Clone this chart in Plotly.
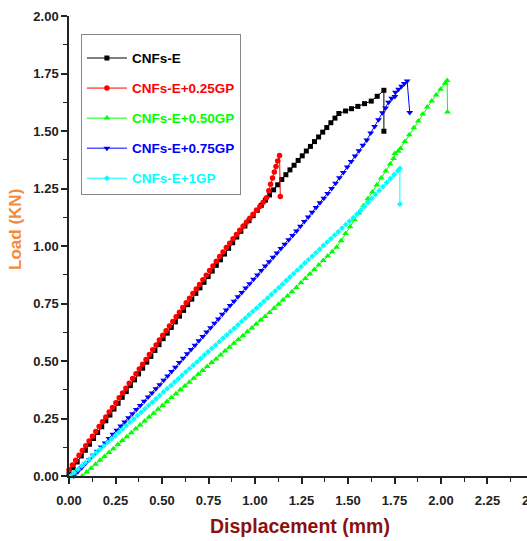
import plotly.graph_objects as go

# ---------------- data ----------------
series_names = ["CNFs-E", "CNFs-E+0.25GP", "CNFs-E+0.50GP", "CNFs-E+0.75GP", "CNFs-E+1GP"]

x_e = [0.000, 0.022, 0.044, 0.066, 0.088, 0.110, 0.132, 0.154, 0.176, 0.198, 0.220, 0.242, 0.264, 0.286,
       0.308, 0.330, 0.352, 0.374, 0.396, 0.418, 0.440, 0.462, 0.484, 0.506, 0.528, 0.550, 0.572, 0.594,
       0.616, 0.638, 0.660, 0.682, 0.704, 0.726, 0.748, 0.770, 0.792, 0.814, 0.836, 0.858, 0.880, 0.902,
       0.924, 0.946, 0.968, 0.990, 1.012, 1.034, 1.056, 1.078, 1.100, 1.122, 1.144, 1.166, 1.188, 1.210,
       1.232, 1.254, 1.276, 1.298, 1.320, 1.342, 1.364, 1.386, 1.408, 1.430, 1.451, 1.487, 1.519, 1.553,
       1.589, 1.625, 1.657, 1.693, 1.693]
y_e = [0.010, 0.036, 0.061, 0.087, 0.112, 0.138, 0.163, 0.189, 0.214, 0.240, 0.265, 0.291, 0.316, 0.342,
       0.367, 0.393, 0.418, 0.444, 0.469, 0.495, 0.520, 0.546, 0.571, 0.597, 0.621, 0.646, 0.670, 0.695,
       0.720, 0.745, 0.769, 0.794, 0.818, 0.842, 0.867, 0.891, 0.916, 0.940, 0.965, 0.990, 1.014, 1.039,
       1.064, 1.087, 1.110, 1.132, 1.155, 1.177, 1.199, 1.222, 1.244, 1.266, 1.289, 1.310, 1.331, 1.351,
       1.372, 1.392, 1.413, 1.433, 1.454, 1.474, 1.495, 1.515, 1.536, 1.556, 1.576, 1.587, 1.597, 1.607,
       1.619, 1.630, 1.651, 1.677, 1.499]

x_025 = [0.000, 0.018, 0.036, 0.054, 0.072, 0.090, 0.108, 0.126, 0.144, 0.162, 0.180, 0.198, 0.216, 0.234,
         0.252, 0.270, 0.288, 0.306, 0.324, 0.342, 0.360, 0.378, 0.396, 0.414, 0.432, 0.450, 0.468, 0.486,
         0.504, 0.522, 0.540, 0.558, 0.576, 0.594, 0.612, 0.630, 0.648, 0.666, 0.684, 0.702, 0.720, 0.738,
         0.756, 0.774, 0.792, 0.810, 0.828, 0.846, 0.864, 0.882, 0.900, 0.918, 0.936, 0.954, 0.972, 0.990,
         1.008, 1.026, 1.044, 1.062, 1.074, 1.084, 1.094, 1.104, 1.113, 1.122, 1.132, 1.136]
y_025 = [0.027, 0.048, 0.069, 0.090, 0.111, 0.131, 0.152, 0.173, 0.194, 0.215, 0.236, 0.257, 0.278, 0.298,
         0.319, 0.340, 0.361, 0.382, 0.403, 0.424, 0.445, 0.465, 0.486, 0.507, 0.528, 0.549, 0.570, 0.591,
         0.612, 0.632, 0.652, 0.672, 0.692, 0.712, 0.733, 0.753, 0.773, 0.793, 0.813, 0.833, 0.853, 0.873,
         0.893, 0.913, 0.934, 0.954, 0.974, 0.993, 1.012, 1.031, 1.050, 1.068, 1.086, 1.103, 1.121, 1.138,
         1.155, 1.172, 1.190, 1.210, 1.240, 1.268, 1.296, 1.322, 1.346, 1.370, 1.394, 1.215]

x_050 = [0.071, 0.095, 0.119, 0.143, 0.167, 0.191, 0.215, 0.239, 0.263, 0.287, 0.311, 0.335, 0.359, 0.383,
         0.407, 0.431, 0.455, 0.479, 0.503, 0.527, 0.551, 0.575, 0.599, 0.623, 0.647, 0.671, 0.695, 0.719,
         0.743, 0.767, 0.791, 0.815, 0.839, 0.863, 0.887, 0.911, 0.935, 0.959, 0.983, 1.007, 1.031, 1.055,
         1.079, 1.103, 1.127, 1.151, 1.175, 1.199, 1.223, 1.247, 1.271, 1.295, 1.319, 1.343, 1.367, 1.391,
         1.415, 1.439, 1.463, 1.487, 1.511, 1.535, 1.559, 1.583, 1.607, 1.631, 1.655, 1.679, 1.703, 1.727,
         1.745, 1.752, 1.770, 1.782, 1.806, 1.830, 1.854, 1.878, 1.902, 1.926, 1.950, 1.974, 1.998, 2.022,
         2.033, 2.035]
y_050 = [0.000, 0.017, 0.034, 0.051, 0.068, 0.085, 0.102, 0.119, 0.137, 0.154, 0.171, 0.188, 0.205, 0.222,
         0.239, 0.256, 0.273, 0.290, 0.307, 0.324, 0.341, 0.358, 0.375, 0.391, 0.408, 0.425, 0.442, 0.459,
         0.476, 0.493, 0.509, 0.526, 0.543, 0.560, 0.577, 0.593, 0.610, 0.627, 0.644, 0.661, 0.678, 0.694,
         0.711, 0.729, 0.747, 0.765, 0.783, 0.801, 0.820, 0.840, 0.859, 0.878, 0.898, 0.917, 0.937, 0.956,
         0.975, 0.995, 1.023, 1.054, 1.084, 1.114, 1.144, 1.175, 1.205, 1.235, 1.265, 1.296, 1.326, 1.356,
         1.380, 1.402, 1.412, 1.424, 1.454, 1.484, 1.514, 1.544, 1.574, 1.604, 1.630, 1.656, 1.682, 1.708,
         1.720, 1.583]

x_075 = [0.026, 0.047, 0.068, 0.089, 0.110, 0.131, 0.152, 0.173, 0.194, 0.215, 0.236, 0.257, 0.278, 0.299,
         0.320, 0.341, 0.362, 0.383, 0.404, 0.425, 0.446, 0.467, 0.488, 0.509, 0.530, 0.551, 0.572, 0.593,
         0.614, 0.635, 0.656, 0.677, 0.698, 0.719, 0.740, 0.761, 0.782, 0.803, 0.824, 0.845, 0.866, 0.887,
         0.908, 0.929, 0.950, 0.971, 0.992, 1.013, 1.034, 1.055, 1.076, 1.097, 1.118, 1.139, 1.160, 1.181,
         1.202, 1.223, 1.244, 1.265, 1.286, 1.307, 1.328, 1.349, 1.370, 1.391, 1.412, 1.433, 1.454, 1.475,
         1.496, 1.517, 1.538, 1.559, 1.580, 1.601, 1.622, 1.643, 1.664, 1.685, 1.702, 1.718, 1.735, 1.752,
         1.755, 1.772, 1.788, 1.803, 1.818, 1.832]
y_075 = [0.000, 0.018, 0.036, 0.054, 0.072, 0.090, 0.108, 0.126, 0.144, 0.163, 0.181, 0.199, 0.217, 0.235,
         0.253, 0.271, 0.289, 0.307, 0.325, 0.343, 0.361, 0.379, 0.397, 0.416, 0.435, 0.454, 0.473, 0.493,
         0.512, 0.531, 0.550, 0.569, 0.588, 0.607, 0.626, 0.645, 0.664, 0.683, 0.703, 0.722, 0.741, 0.760,
         0.779, 0.798, 0.817, 0.836, 0.855, 0.874, 0.894, 0.913, 0.932, 0.951, 0.970, 0.989, 1.008, 1.027,
         1.046, 1.065, 1.086, 1.106, 1.126, 1.147, 1.167, 1.188, 1.208, 1.228, 1.250, 1.273, 1.297, 1.320,
         1.344, 1.367, 1.391, 1.414, 1.438, 1.461, 1.491, 1.520, 1.549, 1.579, 1.600, 1.625, 1.642, 1.650,
         1.668, 1.682, 1.695, 1.706, 1.717, 1.580]

x_1 = [0.008, 0.028, 0.048, 0.068, 0.088, 0.108, 0.128, 0.148, 0.168, 0.188, 0.208, 0.228, 0.248, 0.268,
       0.288, 0.308, 0.328, 0.348, 0.368, 0.388, 0.408, 0.428, 0.448, 0.468, 0.488, 0.508, 0.528, 0.548,
       0.568, 0.588, 0.608, 0.628, 0.648, 0.668, 0.688, 0.708, 0.728, 0.748, 0.768, 0.788, 0.808, 0.828,
       0.848, 0.868, 0.888, 0.908, 0.928, 0.948, 0.968, 0.988, 1.008, 1.028, 1.048, 1.068, 1.088, 1.108,
       1.128, 1.148, 1.168, 1.188, 1.208, 1.228, 1.248, 1.268, 1.288, 1.308, 1.328, 1.348, 1.368, 1.388,
       1.408, 1.428, 1.448, 1.468, 1.488, 1.508, 1.528, 1.548, 1.568, 1.588, 1.608, 1.628, 1.648, 1.668,
       1.688, 1.708, 1.728, 1.748, 1.768, 1.779, 1.779]
y_1 = [0.000, 0.015, 0.029, 0.044, 0.058, 0.073, 0.088, 0.102, 0.117, 0.131, 0.146, 0.161, 0.175, 0.190,
       0.204, 0.219, 0.234, 0.248, 0.263, 0.277, 0.292, 0.307, 0.321, 0.336, 0.350, 0.365, 0.380, 0.394,
       0.409, 0.423, 0.438, 0.453, 0.467, 0.482, 0.496, 0.511, 0.526, 0.540, 0.555, 0.569, 0.584, 0.599,
       0.613, 0.628, 0.642, 0.657, 0.672, 0.686, 0.701, 0.715, 0.730, 0.745, 0.759, 0.774, 0.789, 0.804,
       0.819, 0.834, 0.850, 0.865, 0.880, 0.895, 0.910, 0.926, 0.941, 0.956, 0.971, 0.986, 1.002, 1.017,
       1.032, 1.047, 1.062, 1.078, 1.093, 1.108, 1.123, 1.138, 1.155, 1.172, 1.190, 1.207, 1.224, 1.241,
       1.258, 1.276, 1.293, 1.310, 1.327, 1.337, 1.182]

x_ticks = [0.00, 0.25, 0.50, 0.75, 1.00, 1.25, 1.50, 1.75, 2.00, 2.25]
y_ticks = [0.00, 0.25, 0.50, 0.75, 1.00, 1.25, 1.50, 1.75, 2.00]

# ---------------- styling ----------------
colors = ["#000000", "#FF0000", "#00FF00", "#0000FF", "#00FFFF"]
symbols = ["square", "circle", "triangle-up", "triangle-down", "diamond"]
sizes = [5, 5.5, 6, 6, 4.5]
xs = [x_e, x_025, x_050, x_075, x_1]
ys = [y_e, y_025, y_050, y_075, y_1]

FONT = "Liberation Sans, Arial, sans-serif"

fig = go.Figure()
for i in range(5):
    fig.add_trace(go.Scatter(
        x=xs[i], y=ys[i], mode="lines+markers",
        name=f"<span style='color:{colors[i]}'>{series_names[i]}</span>",
        legendgroup=f"g{i}",
        line=dict(color=colors[i], width=1),
        marker=dict(symbol=symbols[i], size=sizes[i], color=colors[i], line=dict(width=0)),
        cliponaxis=False,
    ))

axis_common = dict(
    showgrid=False, zeroline=False, showline=True, linecolor="#222222", linewidth=1.5,
    ticks="outside", ticklen=6, tickwidth=1.5, tickcolor="#222222",
    tickfont=dict(family=FONT, size=13, color="#222222", weight="bold"),
    minor=dict(ticks="outside", ticklen=4, tickwidth=1.2, tickcolor="#222222", dtick=0.125),
    mirror=False,
)

fig.update_layout(
    width=527, height=541,
    margin=dict(l=69, r=0, t=16, b=65),
    paper_bgcolor="white", plot_bgcolor="white",
    xaxis=dict(range=[0, 2.4624], tickvals=x_ticks, ticktext=[f"{v:.2f}" for v in x_ticks],
               ticklabelstandoff=6, **axis_common),
    yaxis=dict(range=[0, 2.0], tickvals=y_ticks, ticktext=[f"{v:.2f}" for v in y_ticks], **axis_common),
    showlegend=True,
    legend=dict(
        x=0.026, y=0.961, xanchor="left", yanchor="top",
        bgcolor="white", bordercolor="#888888", borderwidth=1,
        font=dict(family=FONT, size=13.5, weight="bold"),
        title=dict(text="&nbsp;", font=dict(size=6)),
        tracegroupgap=9.5, itemwidth=40,
    ),
    annotations=[
        dict(text="Displacement (mm)", xref="paper", yref="paper", x=0.5044, y=-0.108,
             xanchor="center", yanchor="middle", showarrow=False,
             font=dict(family=FONT, size=19.5, color="#8B1010", weight="bold")),
        dict(text="Load (KN)", xref="paper", yref="paper", x=-0.1157, y=0.535,
             xanchor="center", yanchor="middle", showarrow=False, textangle=-90,
             font=dict(family=FONT, size=17, color="#F58A3C", weight="bold")),
        dict(text="2.50", xref="paper", yref="paper", x=(534 - 69) / 458, y=-0.0522,
             xanchor="center", yanchor="middle", showarrow=False,
             font=dict(family=FONT, size=13, color="#222222", weight="bold")),
    ],
)

fig.write_html("out.html", config={"displayModeBar": False},
               post_script="document.body.style.margin='0px';document.body.style.overflow='hidden';")
